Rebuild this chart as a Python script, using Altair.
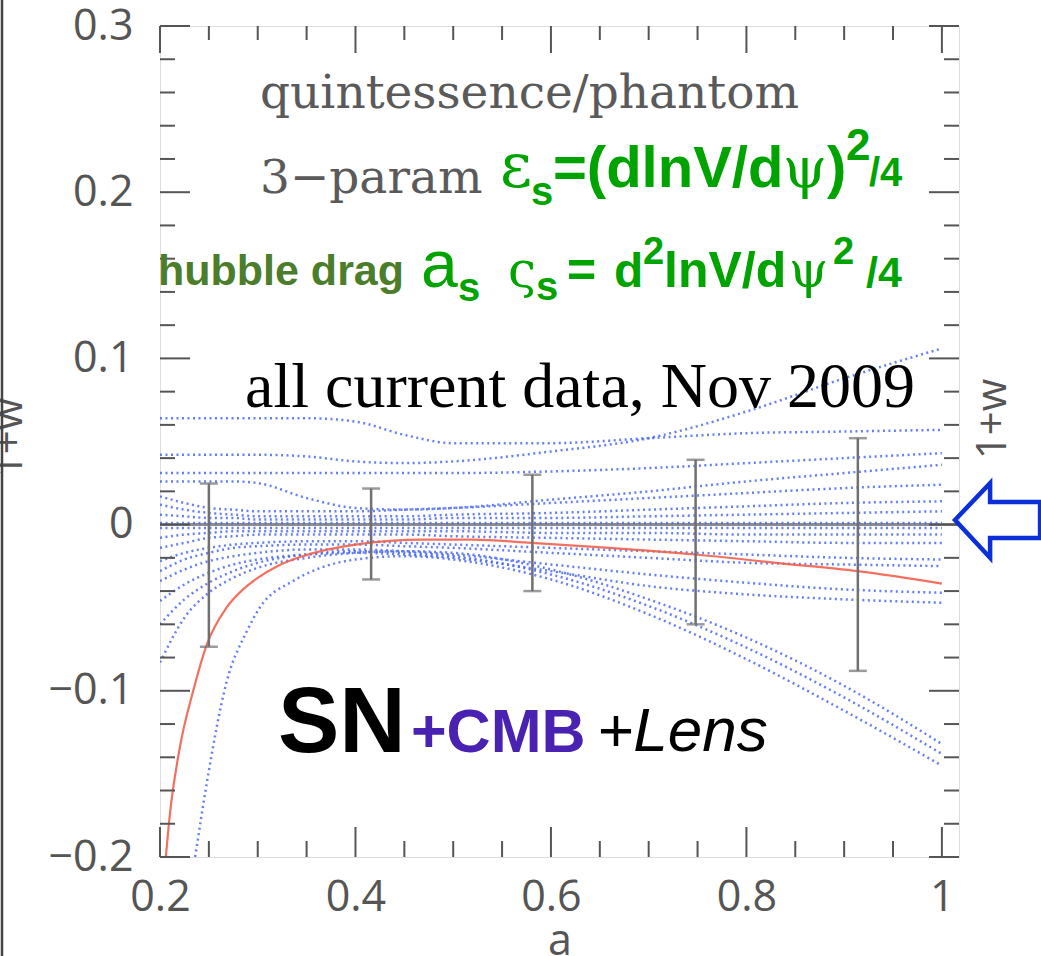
import altair as alt
import pandas as pd

# ---------------- data ----------------
# scale factor grid shared by most trajectories
A_GRID = [0.20, 0.225, 0.25, 0.275, 0.30, 0.35, 0.40, 0.45, 0.50, 0.60, 0.70, 0.80, 0.90, 1.00]

# sampled 1+w(a) trajectories (blue dotted)
TRAJ_U1 = [0.064, 0.064, 0.064, 0.064, 0.064, 0.064, 0.062, 0.054, 0.049, 0.049, 0.052, 0.055, 0.056, 0.057]
TRAJ_U2 = [0.042, 0.042, 0.042, 0.042, 0.042, 0.041, 0.038, 0.037, 0.038, 0.044, 0.052, 0.068, 0.088, 0.106]
TRAJ_U3 = [0.031, 0.031, 0.031, 0.031, 0.031, 0.031, 0.031, 0.031, 0.031, 0.032, 0.034, 0.037, 0.040, 0.043]
TRAJ_U4 = [0.026, 0.026, 0.026, 0.026, 0.025, 0.016, 0.010, 0.009, 0.010, 0.015, 0.020, 0.026, 0.031, 0.036]
TRAJ_U5 = [0.017, 0.013, 0.010, 0.009, 0.008, 0.008, 0.008, 0.009, 0.010, 0.013, 0.016, 0.019, 0.022, 0.024]
TRAJ_U6 = [0.012, 0.009, 0.007, 0.006, 0.005, 0.005, 0.005, 0.005, 0.006, 0.007, 0.009, 0.011, 0.013, 0.014]
TRAJ_U7 = [0.006, 0.005, 0.004, 0.004, 0.003, 0.003, 0.003, 0.003, 0.004, 0.004, 0.005, 0.006, 0.007, 0.008]
TRAJ_Z1 = [0.001, 0.001, 0.001, 0.001, 0.001, 0.001, 0.001, 0.001, 0.001, 0.001, 0.001, 0.001, 0.001, 0.001]
TRAJ_Z2 = [-0.002, -0.002, -0.002, -0.002, -0.002, -0.002, -0.002, -0.002, -0.002, -0.002, -0.002, -0.002, -0.002, -0.002]
TRAJ_Z3 = [-0.008, -0.006, -0.005, -0.004, -0.004, -0.004, -0.004, -0.004, -0.004, -0.005, -0.005, -0.006, -0.006, -0.006]
TRAJ_Z4 = [-0.014, -0.011, -0.008, -0.007, -0.006, -0.006, -0.006, -0.006, -0.007, -0.008, -0.009, -0.010, -0.011, -0.011]
TRAJ_D1 = [-0.022, -0.017, -0.014, -0.012, -0.011, -0.010, -0.010, -0.011, -0.012, -0.014, -0.016, -0.018, -0.020, -0.021]
TRAJ_D2 = [-0.028, -0.021, -0.017, -0.014, -0.013, -0.012, -0.012, -0.013, -0.014, -0.017, -0.020, -0.023, -0.024, -0.025]
TRAJ_D3 = [-0.034, -0.027, -0.022, -0.019, -0.017, -0.015, -0.015, -0.016, -0.018, -0.024, -0.030, -0.035, -0.039, -0.041]
TRAJ_D4 = [-0.046, -0.036, -0.029, -0.024, -0.021, -0.018, -0.017, -0.018, -0.020, -0.028, -0.037, -0.042, -0.045, -0.047]
TRAJ_B1 = [-0.083, -0.056, -0.041, -0.032, -0.026, -0.020, -0.017, -0.016, -0.017, -0.027, -0.045, -0.068, -0.097, -0.132]
TRAJ_B2 = [-0.060, -0.045, -0.035, -0.028, -0.023, -0.018, -0.016, -0.017, -0.019, -0.030, -0.049, -0.074, -0.104, -0.138]

# the steep trajectory that enters from the bottom edge
STEEP_A = [0.236, 0.248, 0.268, 0.289, 0.302, 0.336, 0.36, 0.40, 0.45, 0.50, 0.60, 0.70, 0.80, 0.90, 1.00]
STEEP_V = [-0.200, -0.155, -0.095, -0.064, -0.050, -0.034, -0.027, -0.021, -0.019, -0.021, -0.033, -0.054, -0.081, -0.112, -0.145]

# best-fit trajectory (red)
RED_A = [0.206, 0.21, 0.22, 0.234, 0.248, 0.268, 0.285, 0.30, 0.32, 0.346, 0.40, 0.47, 0.52, 0.58, 0.66, 0.748, 0.83, 0.914, 1.00]
RED_V = [-0.200, -0.175, -0.135, -0.100, -0.072, -0.050, -0.039, -0.032, -0.025, -0.019, -0.012, -0.009, -0.009,
         -0.011, -0.014, -0.018, -0.023, -0.028, -0.0355]

# binned error bars
EB_A = [0.25, 0.416, 0.581, 0.748, 0.914]
EB_LO = [-0.0735, -0.033, -0.040, -0.060, -0.088]
EB_HI = [0.0247, 0.0217, 0.030, 0.039, 0.052]

# axis ticks
X_MAJOR = [0.2, 0.4, 0.6, 0.8, 1.0]
X_MINOR = [0.25, 0.3, 0.35, 0.45, 0.5, 0.55, 0.65, 0.7, 0.75, 0.85, 0.9, 0.95]
Y_MAJOR = [-0.2, -0.1, 0.0, 0.1, 0.2, 0.3]
Y_MINOR = [-0.18, -0.16, -0.14, -0.12, -0.08, -0.06, -0.04, -0.02, 0.02, 0.04, 0.06, 0.08,
           0.12, 0.14, 0.16, 0.18, 0.22, 0.24, 0.26, 0.28]

# ---------------- layout ----------------
LEFT, TOP = 160, 26
W, H = 799, 831
FRAME = "#555555"
SANS = "Liberation Sans"
AXFONT = "'Open Sans', 'DejaVu Sans', sans-serif"
AXCOLOR = "#555555"
SERIF_SYM = "DejaVu Serif"
GREEN = "#00a300"
OLIVE = "#4b7d2a"

xs = alt.Scale(domain=[0.2, 1.0175], nice=False, zero=False)
ys = alt.Scale(domain=[-0.2, 0.3], nice=False, zero=False)

x_axis = alt.Axis(values=X_MAJOR, format="~g", title=None, domain=False, ticks=False, tickSize=0,
                  grid=False, labelFont=AXFONT, labelFontSize=43, labelColor=AXCOLOR,
                  labelPadding=19, labelFlush=False, labelOverlap=False)
y_axis = alt.Axis(values=Y_MAJOR, format="~g", title=None, domain=False, ticks=False, tickSize=0,
                  grid=False, labelFont=AXFONT, labelFontSize=43, labelColor=AXCOLOR,
                  labelPadding=27, labelFlush=False, labelOverlap=False)

X = lambda f: alt.X(f, scale=xs, axis=x_axis)
Y = lambda f: alt.Y(f, scale=ys, axis=y_axis)

# ---------------- trajectories ----------------
grid_curves = {
    "U1": TRAJ_U1, "U2": TRAJ_U2, "U3": TRAJ_U3, "U4": TRAJ_U4, "U5": TRAJ_U5,
    "U6": TRAJ_U6, "U7": TRAJ_U7, "Z1": TRAJ_Z1, "Z2": TRAJ_Z2, "Z3": TRAJ_Z3,
    "Z4": TRAJ_Z4, "D1": TRAJ_D1, "D2": TRAJ_D2, "D3": TRAJ_D3, "D4": TRAJ_D4,
    "B1": TRAJ_B1, "B2": TRAJ_B2,
}
rows = []
for name, vals in grid_curves.items():
    for a, v in zip(A_GRID, vals):
        rows.append({"curve": name, "a": a, "w1": v})
for a, v in zip(STEEP_A, STEEP_V):
    rows.append({"curve": "S1", "a": a, "w1": v})
traj = pd.DataFrame(rows)

red = pd.DataFrame({"a": RED_A, "w1": RED_V})
bars = pd.DataFrame({"a": EB_A, "lo": EB_LO, "hi": EB_HI})

blue = alt.Chart(traj).mark_line(
    color="#4a6af4", strokeWidth=2.5, opacity=0.85, strokeDash=[2, 3.5],
    interpolate="monotone", clip=True
).encode(x=X("a:Q"), y=Y("w1:Q"), detail="curve:N")

zero_line = alt.Chart(pd.DataFrame({"w1": [0.0]})).mark_rule(
    color="#8c8c8c", strokeWidth=3
).encode(y=Y("w1:Q"))

red_line = alt.Chart(red).mark_line(
    color="#f2604e", strokeWidth=2.2, opacity=0.9, interpolate="monotone", clip=True
).encode(x=X("a:Q"), y=Y("w1:Q"))

bar_color = "#707070"
err_rule = alt.Chart(bars).mark_rule(color=bar_color, strokeWidth=2.5).encode(
    x=X("a:Q"), y=Y("lo:Q"), y2="hi:Q")
cap_lo = alt.Chart(bars).mark_tick(color=bar_color, thickness=2.5, size=18, orient="horizontal").encode(
    x=X("a:Q"), y=Y("lo:Q"))
cap_hi = alt.Chart(bars).mark_tick(color=bar_color, thickness=2.5, size=18, orient="horizontal").encode(
    x=X("a:Q"), y=Y("hi:Q"))


# ---------------- inward ticks on all four sides ----------------
def xticks(values, y0, y1):
    return alt.Chart(pd.DataFrame({"a": values})).mark_rule(color=FRAME, strokeWidth=2).encode(
        x=X("a:Q"), y=alt.value(y0), y2=alt.value(y1))


def yticks(values, x0, x1):
    return alt.Chart(pd.DataFrame({"w1": values})).mark_rule(color=FRAME, strokeWidth=2).encode(
        y=Y("w1:Q"), x=alt.value(x0), x2=alt.value(x1))


tick_layers = [
    xticks(X_MAJOR, H, H - 30), xticks(X_MINOR, H, H - 16),
    xticks(X_MAJOR, 0, 27), xticks(X_MINOR, 0, 14),
    yticks(Y_MAJOR, 0, 30), yticks(Y_MINOR, 0, 15),
    yticks(Y_MAJOR, W, W - 30), yticks(Y_MINOR, W, W - 15),
]

# ---------------- text ----------------
ONE = pd.DataFrame({"k": [0]})


def note(text, px, py, size, color, font=SANS, weight="normal", style="normal",
         align="left", angle=0):
    return alt.Chart(ONE).mark_text(
        text=text, font=font, fontSize=size, fontWeight=weight, fontStyle=style,
        color=color, align=align, baseline="alphabetic", angle=angle,
    ).encode(x=alt.value(px - LEFT), y=alt.value(py - TOP))


texts = [
    note("quintessence/phantom", 260, 108, 47, "#5a5a5a", font="DejaVu Serif"),
    note("3\u2212param", 260, 193, 47, "#5a5a5a", font="DejaVu Serif"),
    # epsilon_s = (d lnV / d psi)^2 / 4
    note("\u03b5", 500, 187, 62, GREEN, font=SERIF_SYM),
    note("s", 531, 205, 40, GREEN, weight="bold"),
    note("=(dlnV/d", 553, 187, 58, GREEN, weight="bold"),
    note("\u03c8", 783, 187, 56, GREEN, font=SERIF_SYM),
    note(")", 827, 187, 58, GREEN, weight="bold"),
    note("2", 846, 160, 44, GREEN, weight="bold"),
    note("/4", 869, 186, 40, GREEN, weight="bold"),
    # hubble drag a_s, zeta_s = d^2 lnV / d psi^2 / 4
    note("hubble drag", 158, 285, 43, OLIVE, weight="bold"),
    note("a", 421, 287, 66, GREEN, font=SANS),
    note("s", 458, 301, 40, GREEN, weight="bold"),
    note("\u03c2", 508, 287, 50, GREEN, font=SERIF_SYM),
    note("s", 536, 300, 40, GREEN, weight="bold"),
    note("=", 567, 287, 50, GREEN, weight="bold"),
    note("d", 614, 287, 48, GREEN, weight="bold"),
    note("2", 643, 264, 38, GREEN, weight="bold"),
    note("lnV/d", 664, 287, 50, GREEN, weight="bold"),
    note("\u03c8", 789, 287, 50, GREEN, font=SERIF_SYM),
    note("2", 833, 264, 38, GREEN, weight="bold"),
    note("/4", 866, 287, 43, GREEN, weight="bold"),
    note("all current data, Nov 2009", 245, 407, 64, "black", font="Liberation Serif"),
    note("SN", 278, 752, 92, "black", font=SANS, weight="bold"),
    note("+CMB", 411, 752, 61, "#4a22b2", font=SANS, weight="bold"),
    note("+Lens", 597, 751, 62, "black", font=SANS, style="italic"),
    note("a", 560, 955, 43, AXCOLOR, font=AXFONT, align="center"),
    note("1+w", 22, 438, 42, AXCOLOR, font=AXFONT, align="center", angle=270),
    note("1+w", 1006, 419, 42, AXCOLOR, font=AXFONT, align="center", angle=270),
]

# page edge line on the far left
edge = alt.Chart(ONE).mark_rule(color="#444444", strokeWidth=2.5).encode(
    x=alt.value(2 - LEFT), y=alt.value(-TOP), y2=alt.value(956 - TOP))

# outlined arrow pointing at w = -1 on the right
ARROW_PATH = "M -1 0 L -0.22 -0.82 L -0.22 -0.4 L 0.89 -0.4 L 0.89 0.4 L -0.22 0.4 L -0.22 0.84 Z"
arrow = alt.Chart(ONE).mark_point(
    shape=ARROW_PATH, size=8100, filled=False, color="#0b2fd8", strokeWidth=4.5, opacity=1
).encode(x=alt.value(1000 - LEFT), y=alt.value(520 - TOP))

chart = alt.layer(
    zero_line, blue, red_line, err_rule, cap_lo, cap_hi, *tick_layers, *texts, edge, arrow
).properties(
    width=W, height=H,
    padding={"left": LEFT, "top": TOP, "right": 1041 - LEFT - W, "bottom": 956 - TOP - H},
    autosize=alt.AutoSizeParams(type="none"),
).configure_view(
    stroke=FRAME, strokeWidth=2.5
).configure(background="white")

chart.save("out.html", embed_options={"renderer": "svg", "actions": False})
